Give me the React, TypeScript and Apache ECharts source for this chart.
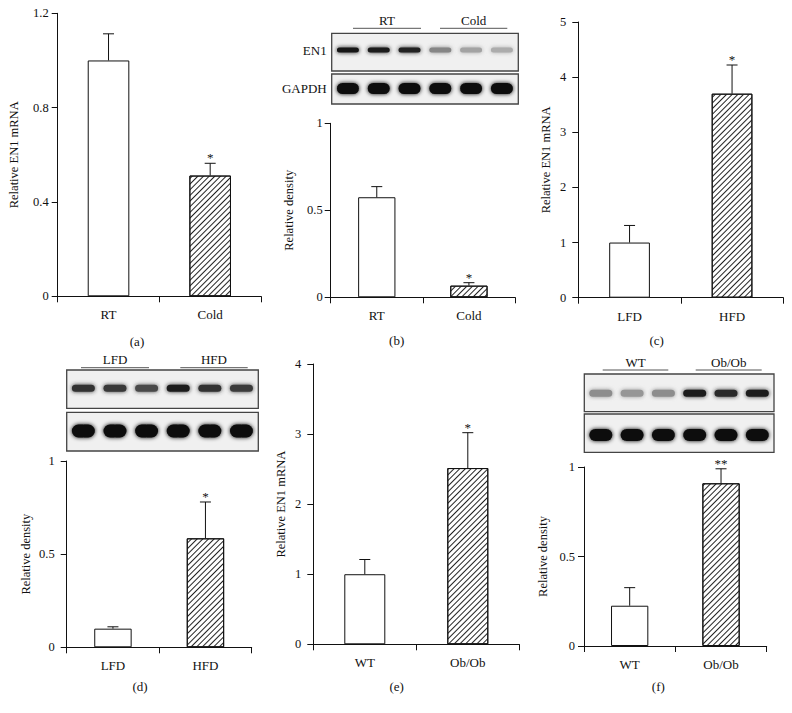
import React, { useEffect, useRef } from "react";
import * as echarts from "echarts";

// ---------- data ----------
const catsA = ["RT", "Cold"];
const valsA = [1.0, 0.512];
const errA = [1.113, 0.564];
const sigA = ["", "*"];

const catsB = ["RT", "Cold"];
const valsB = [0.575, 0.067];
const errB = [0.636, 0.084];
const sigB = ["", "*"];

const catsC = ["LFD", "HFD"];
const valsC = [1.0, 3.7];
const errC = [1.31, 4.22];
const sigC = ["", "*"];

const catsD = ["LFD", "HFD"];
const valsD = [0.1, 0.585];
const errD = [0.11, 0.78];
const sigD = ["", "*"];

const catsE = ["WT", "Ob/Ob"];
const valsE = [1.0, 2.515];
const errE = [1.21, 3.02];
const sigE = ["", "*"];

const catsF = ["WT", "Ob/Ob"];
const valsF = [0.225, 0.909];
const errF = [0.326, 0.99];
const sigF = ["", "**"];

// western blot band darkness (0 = invisible, 1 = black)
const bandB1 = [0.94, 0.92, 0.9, 0.45, 0.32, 0.28];
const bandB2 = [1, 1, 1, 1, 1, 1];
const bandD1 = [0.82, 0.8, 0.72, 0.92, 0.82, 0.78];
const bandD2 = [1, 1, 1, 1, 1, 1];
const bandF1 = [0.42, 0.38, 0.42, 0.92, 0.86, 0.92];
const bandF2 = [1, 1, 1, 1, 1, 1];

const FONT = "'Liberation Serif', 'DejaVu Serif', serif";
const INK = "#111";

const panels = [
  { cats: catsA, vals: valsA, errs: errA, sig: sigA, max: 1.2, interval: 0.4, name: "Relative EN1 mRNA",
    grid: { left: 57.7, top: 13.3, width: 203.3, height: 283 }, barWidth: 41.6, labelMargin: 9, nameGap: 37 },
  { cats: catsB, vals: valsB, errs: errB, sig: sigB, max: 1, interval: 0.5, name: "Relative density",
    grid: { left: 330.7, top: 123.3, width: 184.3, height: 174 }, barWidth: 37.3, labelMargin: 8, nameGap: 35 },
  { cats: catsC, vals: valsC, errs: errC, sig: sigC, max: 5, interval: 1, name: "Relative EN1 mRNA",
    grid: { left: 578.3, top: 22, width: 205, height: 275.7 }, barWidth: 40.7, labelMargin: 12, nameGap: 26 },
  { cats: catsD, vals: valsD, errs: errD, sig: sigD, max: 1, interval: 0.5, name: "Relative density",
    grid: { left: 66.7, top: 461, width: 185, height: 186.3 }, barWidth: 37.4, labelMargin: 12, nameGap: 34 },
  { cats: catsE, vals: valsE, errs: errE, sig: sigE, max: 4, interval: 1, name: "Relative EN1 mRNA",
    grid: { left: 313.3, top: 364, width: 206, height: 280.3 }, barWidth: 41, labelMargin: 12, nameGap: 26 },
  { cats: catsF, vals: valsF, errs: errF, sig: sigF, max: 1, interval: 0.5, name: "Relative density",
    grid: { left: 584, top: 467, width: 182.7, height: 179 }, barWidth: 37.3, labelMargin: 9, nameGap: 35 },
];

const tags = [
  { t: "(a)", x: 137, y: 341 },
  { t: "(b)", x: 396.7, y: 340.7 },
  { t: "(c)", x: 656.7, y: 340.7 },
  { t: "(d)", x: 140, y: 686.7 },
  { t: "(e)", x: 396.7, y: 686.7 },
  { t: "(f)", x: 658.3, y: 686.7 },
];

function grayOf(d: number) {
  const g = Math.round(10 + (1 - d) * 225);
  return `rgb(${g},${g},${g})`;
}

function blotBox(
  x: number, y: number, w: number, h: number,
  bands: number[], bandH: number, bandW: number, cy: number
) {
  const els: any[] = [];
  els.push({
    type: "rect",
    shape: { x, y, width: w, height: h },
    style: { fill: "#f0f0f0", stroke: "#444", lineWidth: 1.3 },
    z: 10,
  });
  bands.forEach((d, i) => {
    const cx = x + w * (0.087 + i * 0.165);
    const c = grayOf(d);
    els.push({
      type: "rect",
      shape: { x: cx - bandW / 2, y: y + cy - bandH / 2, width: bandW, height: bandH, r: bandH / 2 },
      style: { fill: c, shadowBlur: 4, shadowColor: c },
      z: 11,
    });
  });
  return els;
}

function header(x1: number, x2: number, yLine: number, label: string) {
  return [
    { type: "line", shape: { x1, y1: yLine, x2, y2: yLine }, style: { stroke: "#555", lineWidth: 1 }, z: 10 },
    {
      type: "text",
      style: { text: label, x: (x1 + x2) / 2, y: yLine - 8, align: "center", verticalAlign: "middle", font: `13px ${FONT}`, fill: INK },
      z: 10,
    },
  ];
}

export default function App() {
  const ref = useRef<HTMLDivElement>(null);
  useEffect(() => {
    if (!ref.current) return;
    const chart = echarts.init(ref.current, undefined, { renderer: "svg" });

    const grid: any[] = [];
    const xAxis: any[] = [];
    const yAxis: any[] = [];
    const series: any[] = [];

    panels.forEach((p, k) => {
      grid.push({ ...p.grid, containLabel: false, outerBoundsMode: "none" });
      xAxis.push({
        type: "category",
        gridIndex: k,
        data: p.cats,
        axisLine: { show: true, lineStyle: { color: INK, width: 1 } },
        axisTick: { show: true, length: 6, lineStyle: { color: INK, width: 1 } },
        axisLabel: { margin: 12, color: INK, fontFamily: FONT, fontSize: 13 },
        splitLine: { show: false },
      });
      yAxis.push({
        type: "value",
        gridIndex: k,
        min: 0,
        max: p.max,
        interval: p.interval,
        axisLine: { show: true, lineStyle: { color: INK, width: 1 } },
        axisTick: { show: true, length: 6, lineStyle: { color: INK, width: 1 } },
        axisLabel: { margin: p.labelMargin, color: INK, fontFamily: FONT, fontSize: 12.5 },
        splitLine: { show: false },
        name: p.name,
        nameLocation: "middle",
        nameGap: p.nameGap,
        nameTextStyle: { color: INK, fontFamily: FONT, fontSize: 12.5 },
      });
      series.push({
        type: "bar",
        xAxisIndex: k,
        yAxisIndex: k,
        barWidth: p.barWidth,
        data: p.vals.map((v, i) => ({
          value: v,
          itemStyle:
            i === 1
              ? {
                  color: "#fff",
                  borderColor: INK,
                  borderWidth: 1,
                  decal: {
                    symbol: "rect",
                    symbolSize: 1,
                    dashArrayX: [1, 0],
                    dashArrayY: [1, 2.4],
                    rotation: -Math.PI / 4,
                    color: "#222",
                  },
                }
              : { color: "#fff", borderColor: INK, borderWidth: 1 },
        })),
        z: 2,
      });
      const errs = p.errs;
      const vals = p.vals;
      const sig = p.sig;
      series.push({
        type: "custom",
        xAxisIndex: k,
        yAxisIndex: k,
        z: 5,
        data: p.cats.map((_, i) => [i, errs[i]]),
        encode: { x: 0, y: 1 },
        renderItem: (params: any, api: any) => {
          const i = params.dataIndex;
          const top = api.coord([i, errs[i]]);
          const base = api.coord([i, vals[i]]);
          return {
            type: "group",
            children: [
              { type: "line", shape: { x1: base[0], y1: base[1], x2: top[0], y2: top[1] }, style: { stroke: INK, lineWidth: 1 } },
              { type: "line", shape: { x1: top[0] - 5.5, y1: top[1], x2: top[0] + 5.5, y2: top[1] }, style: { stroke: INK, lineWidth: 1 } },
              {
                type: "text",
                style: { text: sig[i], x: top[0], y: top[1] + 1, align: "center", verticalAlign: "bottom", font: `13px ${FONT}`, fill: INK },
              },
            ],
          };
        },
      });
    });

    const graphic: any[] = [];
    tags.forEach((t) =>
      graphic.push({
        type: "text",
        style: { text: t.t, x: t.x, y: t.y, align: "center", verticalAlign: "middle", font: `13px ${FONT}`, fill: INK },
      })
    );

    // blot (b)
    graphic.push(...header(353, 421, 28.3, "RT"));
    graphic.push(...header(440, 507.3, 28.3, "Cold"));
    graphic.push(...blotBox(331.7, 33.3, 186.6, 37.7, bandB1, 5, 22, 16.7));
    graphic.push(...blotBox(331.7, 74, 186.6, 30, bandB2, 11, 22, 14.5));
    graphic.push({
      type: "text",
      style: { text: "EN1", x: 326.7, y: 50, align: "right", verticalAlign: "middle", font: `13px ${FONT}`, fill: INK },
    });
    graphic.push({
      type: "text",
      style: { text: "GAPDH", x: 326.7, y: 88.5, align: "right", verticalAlign: "middle", font: `13px ${FONT}`, fill: INK },
    });

    // blot (d)
    graphic.push(...header(81, 149, 367.7, "LFD"));
    graphic.push(...header(180.3, 247.7, 367.7, "HFD"));
    graphic.push(...blotBox(66.7, 370, 191.6, 38.3, bandD1, 7, 23, 18.3));
    graphic.push(...blotBox(66.7, 412.3, 191.6, 38.7, bandD2, 13, 23, 18.7));

    // blot (f)
    graphic.push(...header(602.7, 668.3, 370, "WT"));
    graphic.push(...header(695.7, 761.7, 370, "Ob/Ob"));
    graphic.push(...blotBox(584.3, 374, 189.7, 37.7, bandF1, 7, 23, 19.3));
    graphic.push(...blotBox(584.3, 414, 189.7, 38.3, bandF2, 12, 23, 21));

    chart.setOption({
      animation: false,
      backgroundColor: "#fff",
      grid,
      xAxis,
      yAxis,
      series,
      graphic,
    });
    return () => chart.dispose();
  }, []);

  return (
    <div
      ref={ref}
      style={{ position: "absolute", left: 0, top: 0, width: 792, height: 713 }}
    />
  );
}
